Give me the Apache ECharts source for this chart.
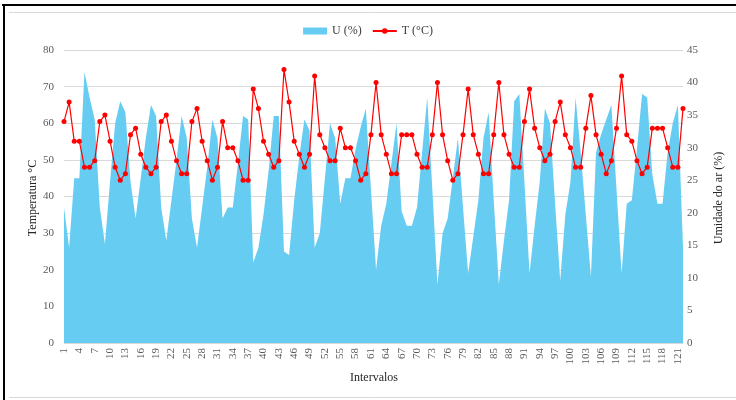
<!DOCTYPE html>
<html>
<head>
<meta charset="utf-8">
<script src="https://cdn.jsdelivr.net/npm/echarts@6/dist/echarts.min.js"></script>
<style>
html,body{margin:0;padding:0;background:#fff;}
#chart{width:736px;height:400px;}
</style>
</head>
<body>
<div id="chart"></div>
<script>
var categories = [1,2,3,4,5,6,7,8,9,10,11,12,13,14,15,16,17,18,19,20,21,22,23,24,25,26,27,28,29,30,31,32,33,34,35,36,37,38,39,40,41,42,43,44,45,46,47,48,49,50,51,52,53,54,55,56,57,58,59,60,61,62,63,64,65,66,67,68,69,70,71,72,73,74,75,76,77,78,79,80,81,82,83,84,85,86,87,88,89,90,91,92,93,94,95,96,97,98,99,100,101,102,103,104,105,106,107,108,109,110,111,112,113,114,115,116,117,118,119,120,121,122];

var umidade = [37,26,45,45,74,67,61,37,27,44,60,66,63,44,34,45,56,65,62,37,28,39,50,62,56,34,26,37,48,61,56,34,37,37,49,62,61,22,26,35,47,62,62,25,24,39,51,61,58,26,30,45,60,56,38,45,45,53,59,64,42,20,32,38,49,60,36,32,32,37,52,67,42,16,30,34,45,56,37,19,29,39,56,63,39,16,28,39,66,68,44,19,32,44,64,60,38,17,35,44,67,52,35,18,52,57,61,65,42,19,38,39,53,68,67,46,38,38,52,60,65,26];

var temperatura = [34,37,31,31,27,27,28,34,35,31,27,25,26,32,33,29,27,26,27,34,35,31,28,26,26,34,36,31,28,25,27,34,30,30,28,25,25,39,36,31,29,27,28,42,37,31,29,27,29,41,32,30,28,28,33,30,30,28,25,26,32,40,32,29,26,26,32,32,32,29,27,27,32,40,32,28,25,26,32,39,32,29,26,26,32,40,32,29,27,27,34,39,33,30,28,29,34,37,32,30,27,27,33,38,32,29,26,28,33,41,32,31,28,26,27,33,33,33,30,27,27,36];

var seriesNames = ['U (%)', 'T (°C)'];
var axisTitles = ['Temperatura °C', 'Umidade do ar (%)', 'Intervalos'];

var FONT = "'Liberation Serif', 'Times New Roman', serif";
var chart = echarts.init(document.getElementById('chart'));
chart.setOption({
  animation: false,
  backgroundColor: '#ffffff',
  legend: {
    top: 20,
    left: 'center',
    itemWidth: 24,
    itemHeight: 7,
    itemGap: 10,
    textStyle: {fontFamily: FONT, fontSize: 12, color: '#404040'},
    data: [{name: seriesNames[0], icon: 'rect'}, {name: seriesNames[1]}]
  },
  grid: {left: 64, right: 53, top: 50, bottom: 57, containLabel: false},
  xAxis: {
    type: 'category',
    data: categories,
    boundaryGap: false,
    axisLine: {lineStyle: {color: '#d9d9d9'}},
    axisTick: {show: false},
    axisLabel: {interval: 2, rotate: 90, margin: 5, fontFamily: FONT, fontSize: 11, color: '#595959'}
  },
  yAxis: [{
    type: 'value', min: 0, max: 80, interval: 10,
    axisLine: {show: false}, axisTick: {show: false},
    splitLine: {lineStyle: {color: '#d9d9d9', width: 1}},
    axisLabel: {margin: 10, fontFamily: FONT, fontSize: 11, color: '#595959'}
  }, {
    type: 'value', min: 0, max: 45, interval: 5,
    axisLine: {show: false}, axisTick: {show: false},
    splitLine: {show: false},
    axisLabel: {margin: 4, fontFamily: FONT, fontSize: 11, color: '#595959'}
  }],
  series: [{
    name: seriesNames[0],
    type: 'line',
    yAxisIndex: 0,
    data: umidade,
    symbol: 'none',
    lineStyle: {width: 0, color: '#66CCF2'},
    itemStyle: {color: '#66CCF2'},
    areaStyle: {color: '#66CCF2', opacity: 1},
    z: 1
  }, {
    name: seriesNames[1],
    type: 'line',
    yAxisIndex: 1,
    data: temperatura,
    symbol: 'circle',
    symbolSize: 5,
    showAllSymbol: true,
    lineStyle: {width: 1.2, color: '#FF0000'},
    itemStyle: {color: '#FF0000'},
    z: 3
  }],
  graphic: [
    {type: 'line', shape: {x1: 2, y1: 5, x2: 736, y2: 5}, style: {stroke: '#000', lineWidth: 2}, silent: true},
    {type: 'line', shape: {x1: 4, y1: 5, x2: 4, y2: 400}, style: {stroke: '#000', lineWidth: 2}, silent: true},
    {type: 'line', shape: {x1: 9, y1: 12.5, x2: 736, y2: 12.5}, style: {stroke: '#d9d9d9', lineWidth: 1}, silent: true},
    {type: 'line', shape: {x1: 9, y1: 397.5, x2: 736, y2: 397.5}, style: {stroke: '#d9d9d9', lineWidth: 1}, silent: true},
    {type: 'text', x: 33, y: 198, rotation: Math.PI / 2,
      style: {text: axisTitles[0], fontFamily: FONT, fontSize: 12, fill: '#262626', align: 'center', verticalAlign: 'middle'}},
    {type: 'text', x: 719, y: 198, rotation: Math.PI / 2,
      style: {text: axisTitles[1], fontFamily: FONT, fontSize: 12, fill: '#262626', align: 'center', verticalAlign: 'middle'}},
    {type: 'text', x: 374, y: 378,
      style: {text: axisTitles[2], fontFamily: FONT, fontSize: 12, fill: '#262626', align: 'center', verticalAlign: 'middle'}}
  ]
});
</script>
</body>
</html>
